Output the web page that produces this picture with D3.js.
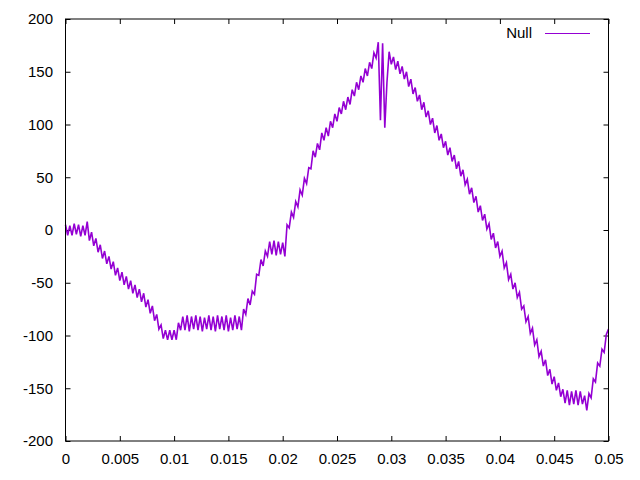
<!DOCTYPE html>
<html>
<head>
<meta charset="utf-8">
<script src="https://cdn.jsdelivr.net/npm/d3@7"></script>
<style>
  body { margin: 0; background: #fff; }
  svg { display: block; font-family: "Liberation Sans", Arial, sans-serif; }
</style>
</head>
<body>
<div id="chart"></div>
<script>
// sampled signal, one value every 0.0002 s
const sampleStep = 0.0002;
const values = [
  5, -5, 4, -5, 6, -4, 5, -6, 4, -5,
  8, -10, -2, -15, -8, -21, -14, -27, -20, -32,
  -25, -37, -30, -43, -36, -48, -40, -52, -44, -56,
  -48, -60, -52, -64, -56, -68, -60, -73, -66, -79,
  -72, -86, -80, -94, -90, -103, -95, -104, -95, -104,
  -95, -104, -88, -95, -82, -95, -81, -96, -82, -94,
  -81, -95, -82, -96, -83, -94, -81, -95, -82, -96,
  -81, -94, -82, -95, -81, -96, -83, -95, -81, -94,
  -82, -95, -75, -80, -65, -71, -58, -61, -42, -43,
  -28, -34, -20, -25, -11, -23, -10, -24, -11, -23,
  -12, -25, 5, 2, 17, 12, 27, 22, 38, 33,
  49, 44, 59, 58, 75, 69, 82, 76, 92, 85,
  97, 89, 103, 97, 110, 103, 116, 110, 122, 114,
  126, 119, 133, 127, 140, 133, 146, 140, 153, 146,
  159, 153, 168, 163, 178, 104, 177, 97, 140, 169,
  157, 164, 152, 160, 148, 155, 143, 150, 136, 143,
  129, 135, 122, 128, 114, 121, 107, 113, 100, 106,
  92, 99, 85, 91, 78, 84, 71, 78, 65, 71,
  58, 65, 51, 57, 43, 48, 34, 40, 26, 32,
  17, 23, 9, 15, 1, 6, -9, -3, -17, -11,
  -25, -20, -36, -31, -47, -42, -56, -50, -64, -59,
  -75, -72, -87, -82, -98, -93, -109, -104, -120, -115,
  -129, -123, -138, -132, -146, -139, -152, -145, -158, -151,
  -164, -152, -166, -153, -165, -152, -166, -153, -165, -157,
  -171, -155, -159, -141, -144, -126, -129, -113, -116, -99,
  -94
];
const xTicks = [0, 0.005, 0.01, 0.015, 0.02, 0.025, 0.03, 0.035, 0.04, 0.045, 0.05];
const yTicks = [-200, -150, -100, -50, 0, 50, 100, 150, 200];
const seriesName = "Null";

const width = 640, height = 480;
const margin = { top: 19, right: 31.5, bottom: 39, left: 65.5 };
const w = width - margin.left - margin.right;
const h = height - margin.top - margin.bottom;

const svg = d3.select("#chart").append("svg")
  .attr("width", width)
  .attr("height", height);

const g = svg.append("g")
  .attr("transform", `translate(${margin.left},${margin.top})`);

const x = d3.scaleLinear().domain([0, 0.05]).range([0, w]);
const y = d3.scaleLinear().domain([-200, 200]).range([h, 0]);

const tick = 5;
const fmt = d => String(d);

function styleAxis(sel) {
  sel.select(".domain").remove();
  sel.selectAll("line").attr("stroke", "#000");
  sel.selectAll("text").attr("fill", "#000").style("font-size", "15px");
}

g.append("g")
  .attr("transform", `translate(0,${h})`)
  .call(d3.axisBottom(x).tickValues(xTicks).tickFormat(fmt).tickSize(-tick).tickPadding(12))
  .call(styleAxis);
g.append("g")
  .call(d3.axisTop(x).tickValues(xTicks).tickFormat("").tickSize(-tick))
  .call(styleAxis);
g.append("g")
  .call(d3.axisLeft(y).tickValues(yTicks).tickFormat(fmt).tickSize(-tick).tickPadding(12.5))
  .call(styleAxis);
g.append("g")
  .attr("transform", `translate(${w},0)`)
  .call(d3.axisRight(y).tickValues(yTicks).tickFormat("").tickSize(-tick))
  .call(styleAxis);

const line = d3.line()
  .x((d, i) => x(i * sampleStep))
  .y(d => y(d));

g.append("path")
  .datum(values)
  .attr("fill", "none")
  .attr("stroke", "#9400d3")
  .attr("stroke-width", 1.6)
  .attr("stroke-linejoin", "miter")
  .attr("d", line);

g.append("rect")
  .attr("width", w)
  .attr("height", h)
  .attr("fill", "none")
  .attr("stroke", "#000")
  .attr("stroke-width", 1);

// legend
const legend = svg.append("g");
legend.append("text")
  .attr("x", 532)
  .attr("y", 38)
  .attr("text-anchor", "end")
  .style("font-size", "15px")
  .attr("fill", "#000")
  .text(seriesName);
legend.append("line")
  .attr("x1", 545).attr("x2", 590)
  .attr("y1", 33.5).attr("y2", 33.5)
  .attr("stroke", "#9400d3")
  .attr("stroke-width", 1);
</script>
</body>
</html>
